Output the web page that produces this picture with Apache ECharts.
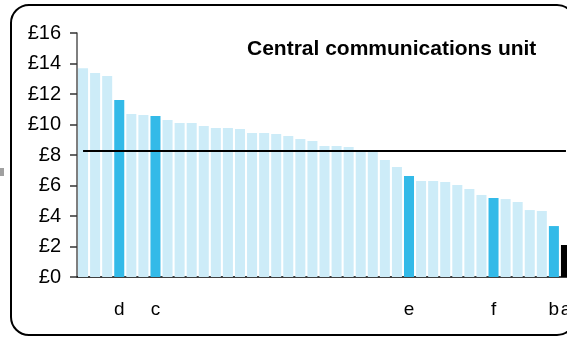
<!DOCTYPE html>
<html>
<head>
<meta charset="utf-8">
<script src="https://cdn.jsdelivr.net/npm/echarts@6/dist/echarts.min.js"></script>
<style>html,body{margin:0;padding:0;background:#fff}#c{width:567px;height:337px}</style>
</head>
<body>
<div id="c"></div>
<script>
var titleText = 'Central communications unit';
var categories = ['', '', '', 'd', '', '', 'c', '', '', '', '', '', '', '', '', '', '', '', '', '', '', '', '', '', '', '', '', 'e', '', '', '', '', '', '', 'f', '', '', '', '', 'b', 'a'];
var values = [13.69, 13.38, 13.18, 11.61, 10.69, 10.62, 10.56, 10.30, 10.10, 10.10, 9.90, 9.77, 9.77, 9.70, 9.44, 9.44, 9.38, 9.25, 9.05, 8.92, 8.59, 8.59, 8.52, 8.30, 8.25, 7.67, 7.21, 6.62, 6.30, 6.30, 6.23, 6.03, 5.77, 5.38, 5.18, 5.11, 4.92, 4.39, 4.33, 3.34, 2.10];
var groups = ['o','o','o','h','o','o','h','o','o','o','o','o','o','o','o','o','o','o','o','o','o','o','o','o','o','o','o','h','o','o','o','o','o','o','h','o','o','o','o','h','k'];
var averageValue = 8.26;
var yTicks = [0, 2, 4, 6, 8, 10, 12, 14, 16];

var colorMap = { o: '#CDECF8', h: '#33BAE8', k: '#000000' };
var font = "'Liberation Sans', Arial, sans-serif";

var chart = echarts.init(document.getElementById('c'), null, { renderer: 'canvas' });
chart.setOption({
  animation: false,
  backgroundColor: '#ffffff',
  grid: { left: 77, top: 33, height: 244, width: 495, containLabel: false, outerBoundsMode: 'none' },
  graphic: [
    { type: 'rect', shape: { x: 11, y: 5, width: 564, height: 330, r: 18 }, style: { fill: 'none', stroke: '#000', lineWidth: 2 }, z: 0, silent: true },
    { type: 'rect', shape: { x: 0, y: 168, width: 4, height: 8 }, style: { fill: '#a0a0a0' }, silent: true }
  ],
  title: {
    text: titleText, left: 242, top: 34,
    textStyle: { fontFamily: font, fontSize: 21, fontWeight: 'bold', color: '#000' }
  },
  xAxis: {
    type: 'category', data: categories,
    axisLine: { lineStyle: { color: '#000', width: 1.5 } },
    axisTick: { show: false },
    axisLabel: { interval: 0, margin: 23, fontFamily: font, fontSize: 19, color: '#000' },
    splitLine: { show: false }
  },
  yAxis: {
    type: 'value', min: yTicks[0], max: yTicks[yTicks.length - 1], interval: 2,
    axisLine: { show: true, lineStyle: { color: '#555', width: 1.5 } },
    axisTick: { show: true, length: 7, lineStyle: { color: '#333', width: 1.5 } },
    axisLabel: { margin: 16, fontFamily: font, fontSize: 20, color: '#000', formatter: function (v) { return '£' + v; } },
    splitLine: { show: false }
  },
  series: [{
    type: 'bar',
    data: values.map(function (v, i) { return { value: v, itemStyle: { color: colorMap[groups[i]] } }; }),
    barCategoryGap: '17%',
    markLine: {
      silent: true, symbol: ['none', 'none'], label: { show: false },
      lineStyle: { color: '#000', width: 2, type: 'solid' },
      data: [[{ coord: [0, averageValue] }, { coord: [categories.length - 1, averageValue] }]]
    }
  }]
});
</script>
</body>
</html>
